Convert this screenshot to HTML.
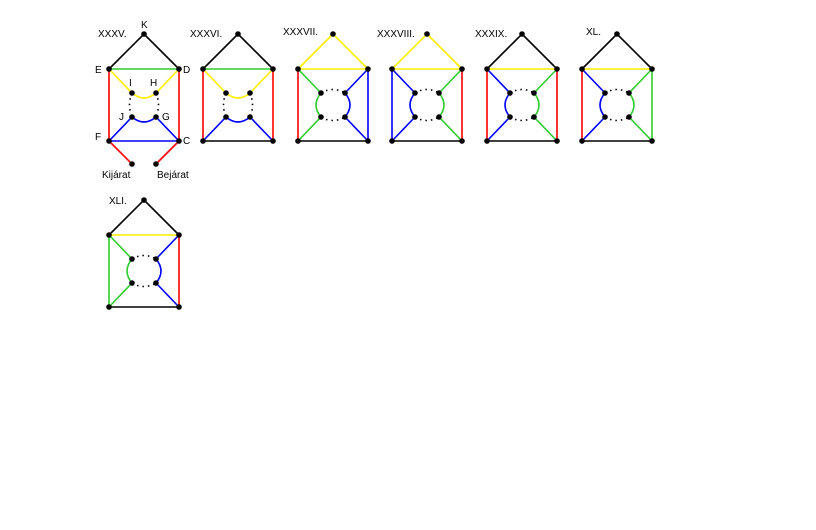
<!DOCTYPE html>
<html><head><meta charset="utf-8"><style>
html,body{margin:0;padding:0;background:#fff;}
svg{display:block;}
text{font-family:"Liberation Sans",sans-serif;font-size:10px;fill:#000;}
</style></head><body>
<svg width="816" height="530" viewBox="0 0 816 530" xmlns="http://www.w3.org/2000/svg">
<defs>
<g id="dotH">
<path d="M132,93 Q127,105 132,117" fill="none" stroke="#000" stroke-width="1.6" stroke-dasharray="1.5,4"/>
<path d="M156,93 Q161,105 156,117" fill="none" stroke="#000" stroke-width="1.6" stroke-dasharray="1.5,4"/>
</g>
<g id="dotV">
<path d="M132,93 Q144,86 156,93" fill="none" stroke="#000" stroke-width="1.6" stroke-dasharray="1.5,4"/>
<path d="M132,117 Q144,124 156,117" fill="none" stroke="#000" stroke-width="1.6" stroke-dasharray="1.5,4"/>
</g>
<g id="nodes" fill="#000">
<circle cx="144" cy="34" r="2.8"/><circle cx="109" cy="69" r="2.8"/><circle cx="179" cy="69" r="2.8"/>
<circle cx="132" cy="93" r="2.8"/><circle cx="156" cy="93" r="2.8"/><circle cx="132" cy="117" r="2.8"/>
<circle cx="156" cy="117" r="2.8"/><circle cx="109" cy="141" r="2.8"/><circle cx="179" cy="141" r="2.8"/>
</g>
</defs>
<g fill="none" stroke-width="1.6">
<!-- XXXV -->
<g>
<path d="M109,69 L144,34 L179,69" stroke="#000"/>
<path d="M109,69 H179" stroke="#2ecc2e"/>
<path d="M109,69 L132,93 Q144,103 156,93 L179,69" stroke="#ffee00"/>
<path d="M109,69 V141 M179,69 V141 M109,141 L132,164 M179,141 L156,164" stroke="#ff0000"/>
<path d="M109,141 L132,117 Q144,127 156,117 L179,141 M109,141 H179" stroke="#0000ff"/>
<use href="#dotH"/><use href="#nodes"/>
<circle cx="132" cy="164" r="2.8" fill="#000" stroke="none"/><circle cx="156" cy="164" r="2.8" fill="#000" stroke="none"/>
</g>
<!-- XXXVI -->
<g transform="translate(94,0)">
<path d="M109,69 L144,34 L179,69 M109,141 H179" stroke="#000"/>
<path d="M109,69 H179" stroke="#2ecc2e"/>
<path d="M109,69 L132,93 Q144,103 156,93 L179,69" stroke="#ffee00"/>
<path d="M109,69 V141 M179,69 V141" stroke="#ff0000"/>
<path d="M109,141 L132,117 Q144,127 156,117 L179,141" stroke="#0000ff"/>
<use href="#dotH"/><use href="#nodes"/>
</g>
<!-- XXXVII -->
<g transform="translate(189,0)">
<path d="M109,69 L144,34 L179,69 H109" stroke="#ffee00"/>
<path d="M109,141 H179" stroke="#000"/>
<path d="M109,69 V141" stroke="#ff0000"/>
<path d="M109,69 L132,93 Q122,105 132,117 L109,141" stroke="#2ecc2e"/>
<path d="M179,69 L156,93 Q166,105 156,117 L179,141 M179,69 V141" stroke="#0000ff"/>
<use href="#dotV"/><use href="#nodes"/>
</g>
<!-- XXXVIII -->
<g transform="translate(283,0)">
<path d="M109,69 L144,34 L179,69 H109" stroke="#ffee00"/>
<path d="M109,141 H179" stroke="#000"/>
<path d="M179,69 V141" stroke="#ff0000"/>
<path d="M109,69 L132,93 Q122,105 132,117 L109,141 M109,69 V141" stroke="#0000ff"/>
<path d="M179,69 L156,93 Q166,105 156,117 L179,141" stroke="#2ecc2e"/>
<use href="#dotV"/><use href="#nodes"/>
</g>
<!-- XXXIX -->
<g transform="translate(378,0)">
<path d="M109,69 L144,34 L179,69 M109,141 H179" stroke="#000"/>
<path d="M109,69 H179" stroke="#ffee00"/>
<path d="M109,69 V141 M179,69 V141" stroke="#ff0000"/>
<path d="M109,69 L132,93 Q122,105 132,117 L109,141" stroke="#0000ff"/>
<path d="M179,69 L156,93 Q166,105 156,117 L179,141" stroke="#2ecc2e"/>
<use href="#dotV"/><use href="#nodes"/>
</g>
<!-- XL -->
<g transform="translate(473,0)">
<path d="M109,69 L144,34 L179,69 M109,141 H179" stroke="#000"/>
<path d="M109,69 H179" stroke="#ffee00"/>
<path d="M109,69 V141" stroke="#ff0000"/>
<path d="M109,69 L132,93 Q122,105 132,117 L109,141" stroke="#0000ff"/>
<path d="M179,69 L156,93 Q166,105 156,117 L179,141 M179,69 V141" stroke="#2ecc2e"/>
<use href="#dotV"/><use href="#nodes"/>
</g>
<!-- XLI -->
<g transform="translate(0,166)">
<path d="M109,69 L144,34 L179,69 M109,141 H179" stroke="#000"/>
<path d="M109,69 H179" stroke="#ffee00"/>
<path d="M179,69 V141" stroke="#ff0000"/>
<path d="M109,69 L132,93 Q122,105 132,117 L109,141 M109,69 V141" stroke="#2ecc2e"/>
<path d="M179,69 L156,93 Q166,105 156,117 L179,141" stroke="#0000ff"/>
<use href="#dotV"/><use href="#nodes"/>
</g>
</g>
<text x="98" y="37">XXXV.</text>
<text x="141" y="28">K</text>
<text x="95" y="73">E</text>
<text x="183" y="73">D</text>
<text x="129" y="86">I</text>
<text x="150" y="86">H</text>
<text x="119" y="120">J</text>
<text x="162" y="120">G</text>
<text x="95" y="140">F</text>
<text x="183" y="144">C</text>
<text x="102" y="178">Kijárat</text>
<text x="157" y="178">Bejárat</text>
<text x="190" y="37">XXXVI.</text>
<text x="283" y="35">XXXVII.</text>
<text x="377" y="37">XXXVIII.</text>
<text x="475" y="37">XXXIX.</text>
<text x="586" y="35">XL.</text>
<text x="109" y="204">XLI.</text>
</svg>
</body></html>
